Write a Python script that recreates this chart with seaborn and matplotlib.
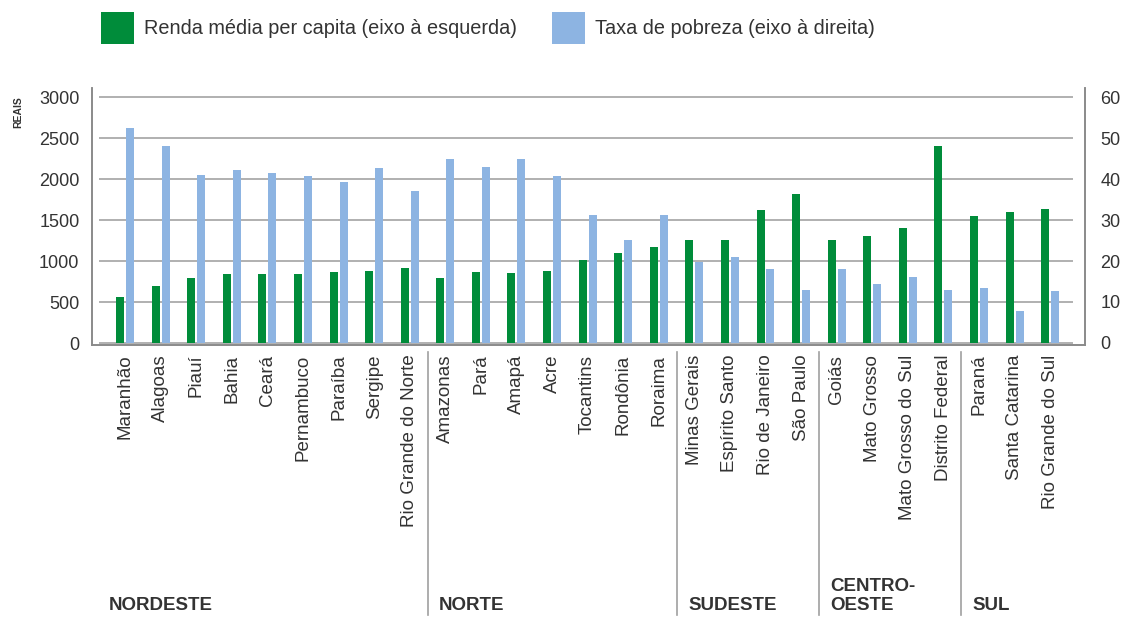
import pandas as pd
import seaborn as sns
import matplotlib.pyplot as plt
from matplotlib.patches import Patch
import matplotlib.transforms as mtransforms

# data
estados = ["Maranhão", "Alagoas", "Piauí", "Bahia", "Ceará", "Pernambuco", "Paraíba",
           "Sergipe", "Rio Grande do Norte",
           "Amazonas", "Pará", "Amapá", "Acre", "Tocantins", "Rondônia", "Roraima",
           "Minas Gerais", "Espírito Santo", "Rio de Janeiro", "São Paulo",
           "Goiás", "Mato Grosso", "Mato Grosso do Sul", "Distrito Federal",
           "Paraná", "Santa Catarina", "Rio Grande do Sul"]
renda = [565, 700, 796, 838, 838, 838, 862, 878, 918,
         796, 862, 850, 878, 1012, 1094, 1175,
         1256, 1256, 1622, 1817,
         1256, 1309, 1398, 2406,
         1553, 1601, 1634]
pobreza = [52.4, 48.0, 41.0, 42.2, 41.5, 40.7, 39.3, 42.8, 37.1,
           44.9, 43.0, 44.9, 40.7, 31.2, 25.1, 31.2,
           19.8, 21.0, 18.0, 12.9,
           18.0, 14.3, 16.0, 12.9,
           13.3, 7.9, 12.8]
regioes = ["NORDESTE", "NORTE", "SUDESTE", "CENTRO-\nOESTE", "SUL"]
tamanho_regiao = [9, 7, 4, 4, 3]

serie_renda = "Renda média per capita (eixo à esquerda)"
serie_pobreza = "Taxa de pobreza (eixo à direita)"
verde = "#008C3A"
azul = "#8DB4E2"
cinza = "#333333"

# long table: each axis gets its own series, the other one left empty so dodge keeps its slot
df = pd.DataFrame({"estado": estados * 2,
                   "serie": [serie_renda] * len(estados) + [serie_pobreza] * len(estados),
                   "renda": renda + [float("nan")] * len(estados),
                   "pobreza": [float("nan")] * len(estados) + pobreza})

plt.rcParams["font.family"] = ["Liberation Sans", "DejaVu Sans"]

fig = plt.figure(figsize=(11.21, 6.17), dpi=100)
ax = fig.add_axes([92 / 1121, 1 - 345 / 617, (1085 - 92) / 1121, (345 - 88) / 617])
ax2 = ax.twinx()

order = [serie_renda, serie_pobreza]
sns.barplot(data=df, x="estado", y="renda", hue="serie", hue_order=order,
            palette=[verde, azul], saturation=1, dodge=True, width=0.56, gap=0.2,
            linewidth=0, legend=False, ax=ax)
sns.barplot(data=df, x="estado", y="pobreza", hue="serie", hue_order=order,
            palette=[verde, azul], saturation=1, dodge=True, width=0.56, gap=0.2,
            linewidth=0, legend=False, ax=ax2)

ax.set_xlim(-0.93, len(estados) - 1 + 0.98)
ax.set_ylim(-24, 3110)
ax2.set_ylim(-0.49, 62.2)
ax.set_yticks(range(0, 3001, 500))
ax2.set_yticks(range(0, 61, 10))
for y in range(0, 3001, 500):
    ax.axhline(y, xmin=0.008, xmax=0.987, color="#b0b0b0", lw=1.4, zorder=0)

ax.set_xlabel("")
ax.set_ylabel("")
ax2.set_ylabel("")
for a in (ax, ax2):
    a.set_facecolor("none")
    a.spines["top"].set_visible(False)
    for s in ("left", "right", "bottom"):
        a.spines[s].set_color("#8a8a8a")
        a.spines[s].set_linewidth(1.2)
ax.set_zorder(1)
ax2.set_zorder(2)

ax.tick_params(axis="y", length=0, pad=9, labelsize=13, labelcolor=cinza)
ax2.tick_params(axis="y", length=0, pad=11, labelsize=13, labelcolor=cinza)
ax.tick_params(axis="x", length=0, pad=7, labelsize=13.5, labelcolor=cinza, rotation=90)

fig.text(18 / 1121, 1 - 96 / 617, "REAIS", rotation=90, fontsize=7.5, fontweight="bold",
         color=cinza, ha="center", va="top")

# region separators and labels below the axis
trans = mtransforms.blended_transform_factory(ax.transData, ax.transAxes)
inicio = 0
limites = []
for n in tamanho_regiao:
    limites.append(inicio - 0.5)
    inicio += n
for i, (nome, lim) in enumerate(zip(regioes, limites)):
    if i > 0:
        ax.plot([lim, lim], [-0.027, -1.05], transform=trans, color="#a0a0a0",
                lw=1.2, clip_on=False)
    x = lim + 0.33 if i > 0 else -0.47
    ax.text(x, -1.045, nome, transform=trans, ha="left", va="bottom", fontsize=13.5,
            fontweight="bold", color=cinza, linespacing=1.15)

handles = [Patch(facecolor=verde, label=serie_renda), Patch(facecolor=azul, label=serie_pobreza)]
fig.legend(handles=handles, loc="center left", bbox_to_anchor=(101 / 1121, 1 - 28 / 617),
           ncol=2, frameon=False, fontsize=14.3, handlelength=1.66, handleheight=2.1,
           handletextpad=0.5, columnspacing=1.76, borderpad=0, borderaxespad=0,
           labelcolor=cinza)

fig.savefig("out.png", dpi=100)
